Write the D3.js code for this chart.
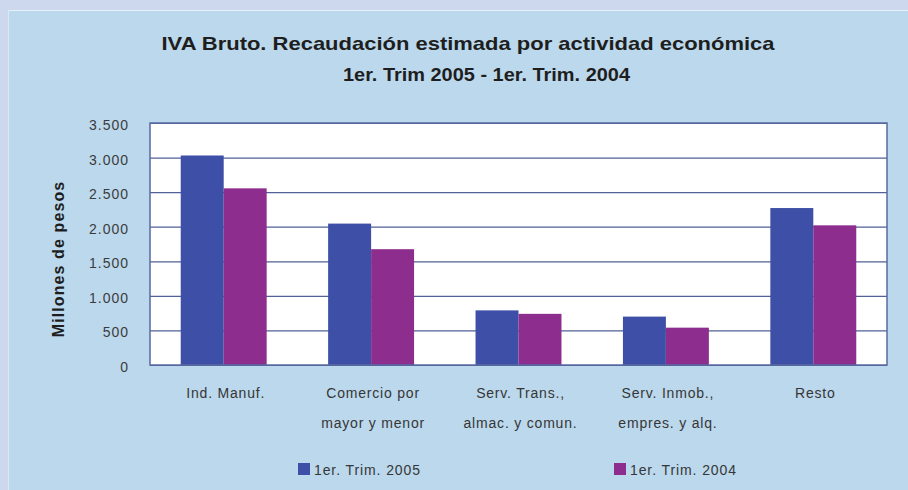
<!DOCTYPE html>
<html>
<head>
<meta charset="utf-8">
<script src="https://cdn.jsdelivr.net/npm/d3@7"></script>
<style>
  html, body { margin: 0; padding: 0; background: #cdd8ef; }
  svg { display: block; }
  text { font-family: "Liberation Sans", Arial, sans-serif; }
</style>
</head>
<body>
<svg id="chart" width="908" height="490"></svg>
<script>
const categories = [
  ["Ind. Manuf."],
  ["Comercio por", "mayor y menor"],
  ["Serv. Trans.,", "almac. y comun."],
  ["Serv. Inmob.,", "empres. y alq."],
  ["Resto"]
];
const seriesNames = ["1er. Trim. 2005", "1er. Trim. 2004"];
const trim2005 = [3030, 2045, 790, 700, 2270];
const trim2004 = [2555, 1675, 740, 540, 2020];
const yTickValues = [0, 500, 1000, 1500, 2000, 2500, 3000, 3500];
const yTickLabels = ["0", "500", "1.000", "1.500", "2.000", "2.500", "3.000", "3.500"];
const titleLines = ["IVA Bruto. Recaudación estimada por actividad económica", "1er. Trim 2005 - 1er. Trim. 2004"];
const yAxisTitle = "Millones de pesos";

const colors = ["#3d4fa6", "#8d2d8e"];
const svg = d3.select("#chart");

// panel
svg.append("rect").attr("x", 8).attr("y", 10).attr("width", 900).attr("height", 480)
  .attr("fill", "#bbd8ec");
svg.append("line").attr("x1", 8).attr("x2", 908).attr("y1", 10.5).attr("y2", 10.5)
  .attr("stroke", "#e6f0f8").attr("stroke-width", 1);
svg.append("line").attr("x1", 8.5).attr("x2", 8.5).attr("y1", 10).attr("y2", 490)
  .attr("stroke", "#d9e8f4").attr("stroke-width", 1);

const plot = { left: 150, top: 123, right: 887, bottom: 365 };
const W = plot.right - plot.left, H = plot.bottom - plot.top;

const x = d3.scaleBand().domain(d3.range(categories.length))
  .range([plot.left, plot.right]).paddingInner(0.417).paddingOuter(0.2085);
const xs = d3.scaleBand().domain([0, 1]).range([0, x.bandwidth()]);
const y = d3.scaleLinear().domain([0, 3500]).range([plot.bottom, plot.top]);

// plot background
svg.append("rect").attr("x", plot.left).attr("y", plot.top).attr("width", W).attr("height", H)
  .attr("fill", "#ffffff");

// gridlines
const grid = svg.append("g").attr("transform", `translate(${plot.left},0)`)
  .call(d3.axisLeft(y).tickValues(yTickValues).tickSize(-W).tickFormat(""));
grid.select(".domain").remove();
grid.selectAll("line").attr("stroke", "#4f6196").attr("stroke-width", 1.2);

// bars
const series = [trim2005, trim2004];
series.forEach((vals, si) => {
  svg.append("g").selectAll("rect").data(vals).join("rect")
    .attr("x", (d, i) => x(i) + xs(si))
    .attr("y", d => y(d))
    .attr("width", xs.bandwidth())
    .attr("height", d => y(0) - y(d))
    .attr("fill", colors[si]);
});

// plot border
svg.append("rect").attr("x", plot.left).attr("y", plot.top).attr("width", W).attr("height", H)
  .attr("fill", "none").attr("stroke", "#5a6aa2").attr("stroke-width", 1.5);

// y axis labels
const yAxis = svg.append("g").attr("transform", `translate(${plot.left},2)`)
  .call(d3.axisLeft(y).tickValues(yTickValues).tickSize(0).tickPadding(21)
    .tickFormat((d, i) => yTickLabels[i]));
yAxis.select(".domain").remove();
yAxis.selectAll("text").attr("font-size", 14).attr("letter-spacing", 1)
  .attr("fill", "#3c3c3c").style("font-family", "'Liberation Sans', Arial, sans-serif");

// x labels
categories.forEach((lines, i) => {
  const cx = x(i) + x.bandwidth() / 2 + 2;
  lines.forEach((ln, j) => {
    svg.append("text").attr("x", cx).attr("y", 398 + j * 30)
      .attr("text-anchor", "middle").attr("font-size", 14).attr("letter-spacing", 0.8)
      .attr("fill", "#363636").text(ln);
  });
});

// y axis title
svg.append("text").attr("transform", "translate(64,259) rotate(-90)")
  .attr("text-anchor", "middle").attr("font-size", 16).attr("font-weight", "bold")
  .attr("letter-spacing", 1.1).attr("fill", "#1e1e1e").text(yAxisTitle);

// title
svg.append("text").attr("x", 468).attr("y", 50).attr("text-anchor", "middle")
  .attr("font-size", 19).attr("font-weight", "bold").attr("fill", "#1e1e1e")
  .attr("textLength", 613).attr("lengthAdjust", "spacingAndGlyphs").text(titleLines[0]);
svg.append("text").attr("x", 486.5).attr("y", 81).attr("text-anchor", "middle")
  .attr("font-size", 19).attr("font-weight", "bold").attr("fill", "#1e1e1e")
  .attr("textLength", 287).attr("lengthAdjust", "spacingAndGlyphs").text(titleLines[1]);

// legend
const legendPos = [298, 614];
seriesNames.forEach((name, i) => {
  svg.append("rect").attr("x", legendPos[i]).attr("y", 463).attr("width", 12).attr("height", 12)
    .attr("fill", colors[i]);
  svg.append("text").attr("x", legendPos[i] + 16).attr("y", 475)
    .attr("font-size", 14).attr("letter-spacing", 0.9).attr("fill", "#363636").text(name);
});
</script>
</body>
</html>
